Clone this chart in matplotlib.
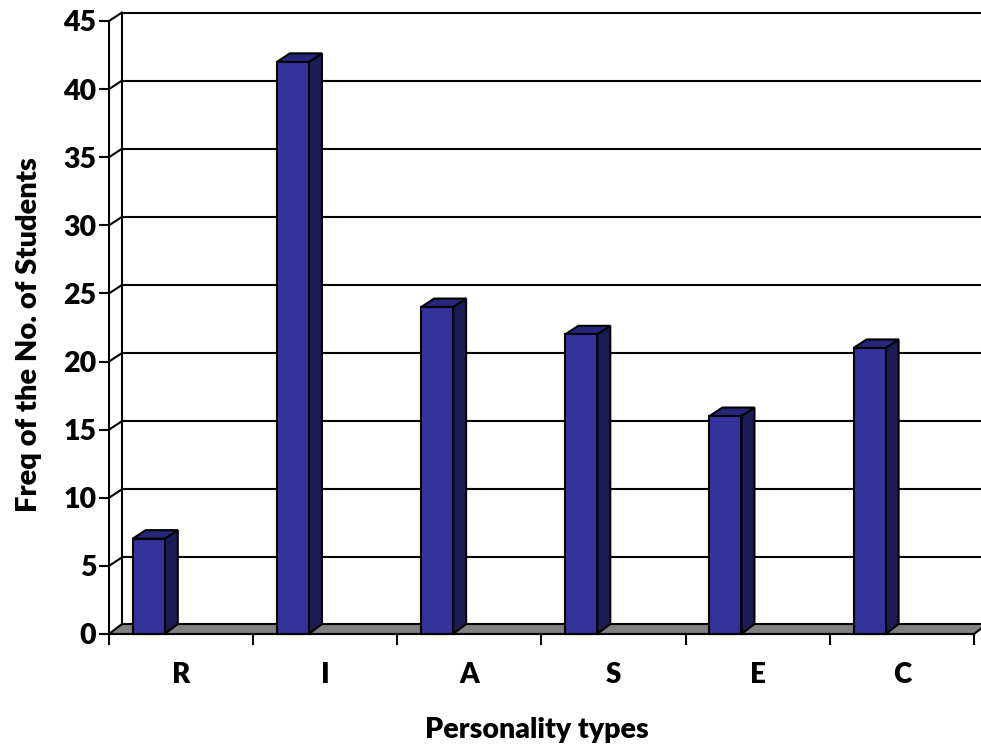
import matplotlib
matplotlib.use('Agg')
import matplotlib.pyplot as plt
from matplotlib.patches import Polygon

plt.rcParams['font.family'] = ['Lato', 'DejaVu Sans']
plt.rcParams['font.weight'] = 'heavy'

categories = ['R', 'I', 'A', 'S', 'E', 'C']
freq = [7, 42, 24, 22, 16, 21]
y_ticks = [0, 5, 10, 15, 20, 25, 30, 35, 40, 45]

W, H = 981, 749
# axes box in pixels (front plane of the fake 3d chart)
left, right, bottom, top = 109, 974, 634, 21
n = len(categories)
xu = (right - left) / n
yu = (bottom - top) / 45
dx = 13 / xu
dy = 8.5 / yu
floor_dy = 10 / yu
bar_off = 0.165
bar_w = 32 / xu
lw = 1.5

fig = plt.figure(figsize=(W / 100, H / 100), dpi=100)
ax = fig.add_axes([left / W, 1 - bottom / H, (right - left) / W, (bottom - top) / H])
ax.set_xlim(0, n)
ax.set_ylim(0, 45)
ax.patch.set_visible(False)
for s in ['top', 'right']:
    ax.spines[s].set_visible(False)
for s in ['left', 'bottom']:
    ax.spines[s].set_linewidth(lw)

# floor
ax.add_patch(Polygon([(0, 0), (n, 0), (n + dx, floor_dy), (dx, floor_dy)], closed=True,
                     fc='#808080', ec='black', lw=lw, clip_on=False, zorder=1))

# back wall and gridlines
ax.plot([dx, dx], [floor_dy, 45 + dy], color='black', lw=lw, clip_on=False, zorder=1)
for v in y_ticks[1:]:
    ax.plot([dx, n + dx], [v + dy, v + dy], color='black', lw=lw, clip_on=False, zorder=1)
    ax.plot([0, dx], [v, v + dy], color='black', lw=lw, clip_on=False, zorder=1)

# bars
xs = [i + bar_off for i in range(n)]
ax.bar(xs, freq, width=bar_w, align='edge', color='#333399', edgecolor='black',
       linewidth=lw, zorder=4, clip_on=False)
for x, v in zip(xs, freq):
    x2 = x + bar_w
    ax.add_patch(Polygon([(x2, 0), (x2 + dx, floor_dy), (x2 + dx, v + dy), (x2, v)], closed=True,
                         fc='#1b1b55', ec='black', lw=lw, clip_on=False, zorder=3))
    ax.add_patch(Polygon([(x, v), (x2, v), (x2 + dx, v + dy), (x + dx, v + dy)], closed=True,
                         fc='#26267a', ec='black', lw=lw, clip_on=False, zorder=3))

ax.set_yticks(y_ticks)
ax.tick_params(axis='y', length=7, width=lw, labelsize=20.5, pad=2)
ax.set_xticks(range(n + 1))
ax.set_xticklabels([])
ax.tick_params(axis='x', which='major', length=8, width=lw)
ax.set_xticks([i + 0.5 for i in range(n)], minor=True)
ax.set_xticklabels(categories, minor=True)
ax.tick_params(axis='x', which='minor', length=0, labelsize=20, pad=20)

ax.set_xlabel('Personality types', fontsize=20.5, fontweight='heavy')
ax.xaxis.set_label_coords(0.495, -0.136)
ax.set_ylabel('Freq of the No. of Students', fontsize=21, fontweight='heavy')
ax.yaxis.set_label_coords(-0.077, 0.489)

plt.savefig('out.png', dpi=100)
